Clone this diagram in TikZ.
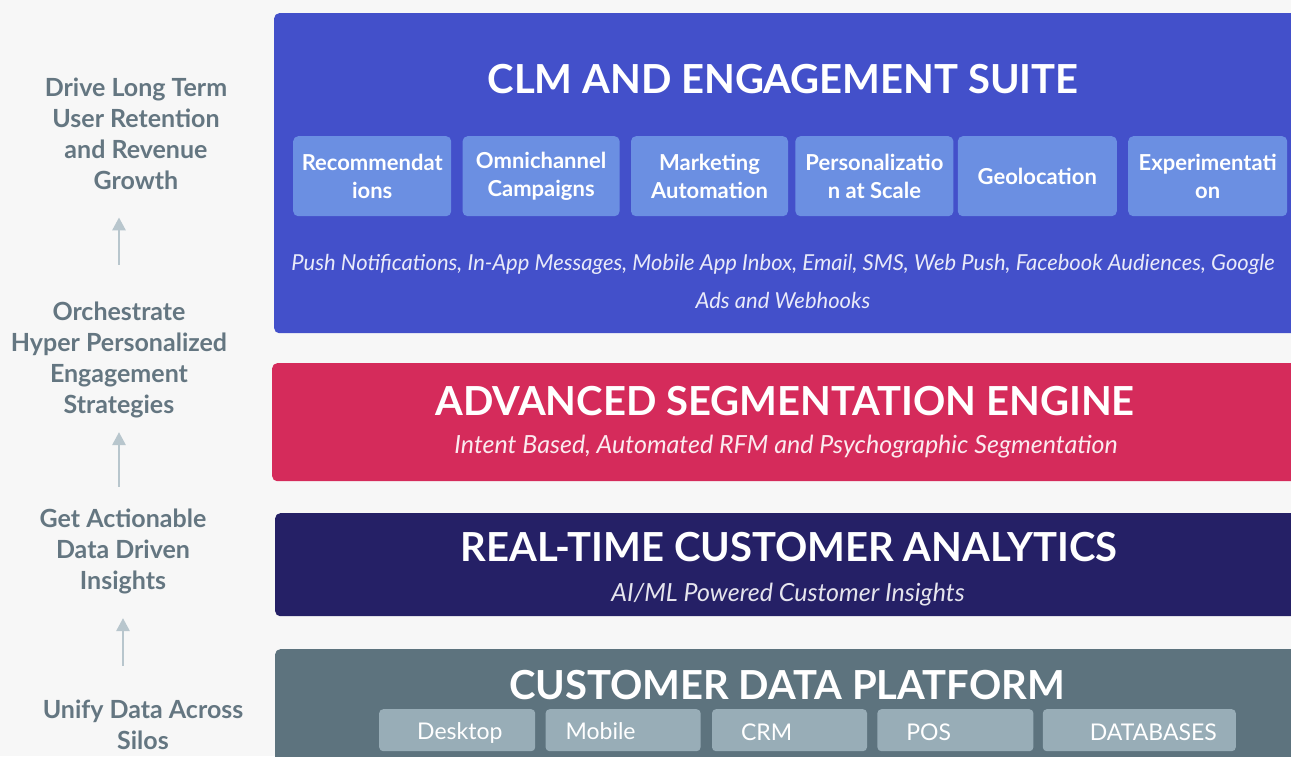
\documentclass[tikz,border=0pt]{standalone}
\usepackage{fontspec}
\setmainfont{Lato}
\usetikzlibrary{positioning,arrows.meta}

\definecolor{pagebg}{RGB}{247,247,247}
\definecolor{clmblue}{RGB}{67,80,202}
\definecolor{featureblue}{RGB}{107,143,226}
\definecolor{segred}{RGB}{213,43,91}
\definecolor{analyticsnavy}{RGB}{37,32,102}
\definecolor{cdpslate}{RGB}{93,115,126}
\definecolor{sourceslate}{RGB}{152,173,183}
\definecolor{goalgray}{RGB}{100,118,129}
\definecolor{flowgray}{RGB}{184,198,205}

\begin{document}
\begin{tikzpicture}[x=1pt, y=-1pt,
  panel/.style={rectangle, rounded corners=5pt, anchor=north west, minimum width=1040pt, inner sep=0pt},
  paneltitle/.style={text=white, font=\fontsize{40}{42}\selectfont\bfseries},
  panelsub/.style={align=center, font=\fontsize{25}{28}\selectfont\itshape},
  feature/.style={rectangle, rounded corners=5pt, fill=featureblue, text=white, align=center, minimum height=80pt, inner sep=0pt, font=\fontsize{22}{28}\selectfont\bfseries},
  source/.style={rectangle, rounded corners=4pt, fill=sourceslate, minimum height=42pt, inner sep=0pt},
  sourcetext/.style={anchor=west, text=white, inner sep=0pt, font=\fontsize{23}{26}\selectfont},
  goal/.style={align=center, text=goalgray, font=\fontsize{25}{31}\selectfont\bfseries},
  flow/.style={draw=flowgray, line width=2.8pt, -{Triangle[width=13pt,length=13pt]}}]
\useasboundingbox (0,0) rectangle (1291,756);
\fill[pagebg] (0,0) rectangle (1291,756);

% left column: goals
\node[goal] (drive) at (136,134) {Drive Long Term\\User Retention\\and Revenue\\Growth};
\node[goal] (orchestrate) at (119,359.5) {Orchestrate\\Hyper Personalized\\Engagement\\Strategies};
\node[goal] (actionable) at (123,551) {Get Actionable\\Data Driven\\Insights};
\node[goal] (unify) at (143,725) {Unify Data Across\\Silos};

\draw[flow, shorten <=33pt, shorten >=24pt] (orchestrate.north) -- (orchestrate.north |- drive.south);
\draw[flow, shorten <=18pt, shorten >=11pt] (actionable.north -| orchestrate.south) -- (orchestrate.south);
\draw[flow, shorten <=31pt, shorten >=21pt] (unify.north -| actionable.south) -- (actionable.south);

% CLM and engagement suite
\node[panel, fill=clmblue, minimum height=320pt] (clm) at (274,13) {};
\node[paneltitle] (clmtitle) at (783,79) {CLM AND ENGAGEMENT SUITE};
\node[feature, minimum width=158pt, anchor=north west] (recs) at (293,136) {Recommendat\\ions};
\node[feature, minimum width=157pt, right=11pt of recs] (omni) {Omnichannel\\Campaigns};
\node[feature, minimum width=157pt, right=11pt of omni] (automation) {Marketing\\Automation};
\node[feature, minimum width=158pt, right=7pt of automation] (personal) {Personalizatio\\n at Scale};
\node[feature, minimum width=159pt, right=4pt of personal] (geo) {Geolocation};
\node[feature, minimum width=159pt, right=11pt of geo] (experiment) {Experimentati\\on};
\node[panelsub, text=white!88!clmblue, font=\fontsize{22}{38}\selectfont\itshape] (channels) at (783,281) {Push Notifications, In-App Messages, Mobile App Inbox, Email, SMS, Web Push, Facebook Audiences, Google\\Ads and Webhooks};

% segmentation
\node[panel, fill=segred, minimum height=118pt] (seg) at (272,363) {};
\node[paneltitle] (segtitle) at (785,401) {ADVANCED SEGMENTATION ENGINE};
\node[panelsub, text=white!90!segred] (segsub) at (786,447) {Intent Based, Automated RFM and Psychographic Segmentation};

% analytics
\node[panel, fill=analyticsnavy, minimum height=103pt] (analytics) at (275,513) {};
\node[paneltitle] (analyticstitle) at (789,547) {REAL-TIME CUSTOMER ANALYTICS};
\node[panelsub, text=white!88!analyticsnavy] (analyticssub) at (788,595) {AI/ML Powered Customer Insights};

% customer data platform
\node[panel, fill=cdpslate, minimum height=120pt] (cdp) at (275,649) {};
\node[paneltitle] (cdptitle) at (787,685) {CUSTOMER DATA PLATFORM};
\node[source, minimum width=156pt, anchor=north west] (desktop) at (379,709) {};
\node[source, minimum width=155pt, right=10pt of desktop] (mobile) {};
\node[source, minimum width=155pt, right=11pt of mobile] (crm) {};
\node[source, minimum width=156pt, right=10pt of crm] (pos) {};
\node[source, minimum width=193pt, right=9pt of pos] (databases) {};
\node[sourcetext] at ([xshift=38pt,yshift=-3pt]desktop.west) {Desktop};
\node[sourcetext] at ([xshift=20pt,yshift=-1pt]mobile.west) {Mobile};
\node[sourcetext] at ([xshift=29pt,yshift=-2pt]crm.west) {CRM};
\node[sourcetext] at ([xshift=29pt,yshift=-2pt]pos.west) {POS};
\node[sourcetext] at ([xshift=47pt,yshift=-2pt]databases.west) {DATABASES};
\end{tikzpicture}
\end{document}
